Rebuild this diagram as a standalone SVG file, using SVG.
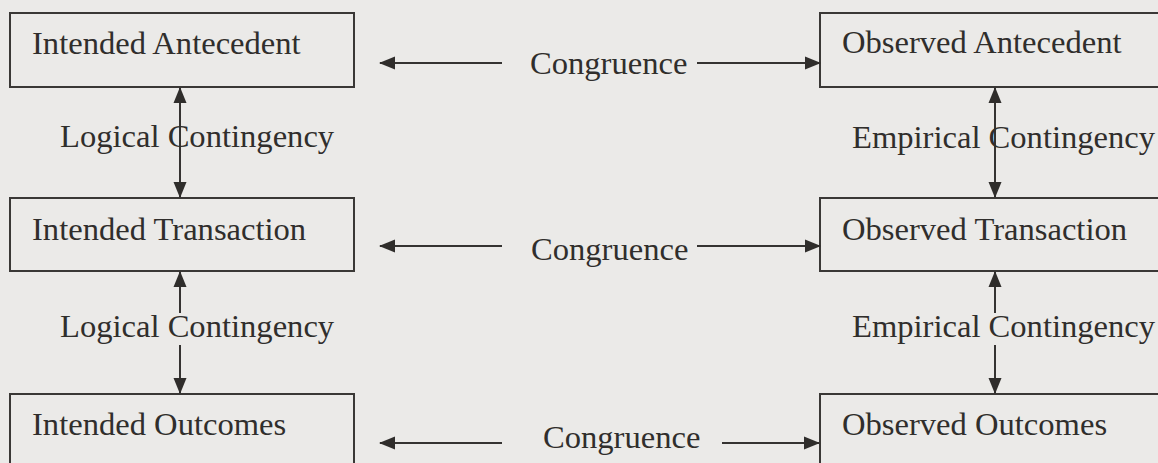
<svg xmlns="http://www.w3.org/2000/svg" width="1158" height="463" viewBox="0 0 1158 463">
  <style>
    .box { fill: none; stroke: #3a3836; stroke-width: 2; }
    .lbl { font-family: "Liberation Serif", "Times New Roman", serif; font-size: 32.6px; fill: #302e2c; }
    .conn { stroke: #353331; stroke-width: 2; fill: none; }
  </style>
  <defs>
    <marker id="ah" markerUnits="userSpaceOnUse" markerWidth="17" markerHeight="14" refX="15" refY="7" orient="auto-start-reverse">
      <path d="M0,0.5 L16,7 L0,13.5 Z" fill="#2f2d2b"/>
    </marker>
  </defs>
  <rect width="1158" height="463" fill="#ebeae8"/>

  <g id="intended-antecedent">
    <rect class="box" x="10" y="13" width="344" height="74"/>
    <text class="lbl" x="32" y="54">Intended Antecedent</text>
  </g>
  <g id="intended-transaction">
    <rect class="box" x="10" y="198" width="344" height="73"/>
    <text class="lbl" x="32" y="240">Intended Transaction</text>
  </g>
  <g id="intended-outcomes">
    <rect class="box" x="10" y="394" width="344" height="100"/>
    <text class="lbl" x="32" y="435">Intended Outcomes</text>
  </g>
  <g id="observed-antecedent">
    <rect class="box" x="820" y="13" width="360" height="74"/>
    <text class="lbl" x="842" y="53">Observed Antecedent</text>
  </g>
  <g id="observed-transaction">
    <rect class="box" x="820" y="198" width="360" height="73"/>
    <text class="lbl" x="842" y="240">Observed Transaction</text>
  </g>
  <g id="observed-outcomes">
    <rect class="box" x="820" y="394" width="360" height="100"/>
    <text class="lbl" x="842" y="435">Observed Outcomes</text>
  </g>

  <g id="connectors">
    <!-- Congruence row 1 -->
    <line class="conn" x1="502" y1="63" x2="380" y2="63" marker-end="url(#ah)"/>
    <line class="conn" x1="697" y1="63" x2="820" y2="63" marker-end="url(#ah)"/>
    <!-- Congruence row 2 -->
    <line class="conn" x1="502" y1="246" x2="380" y2="246" marker-end="url(#ah)"/>
    <line class="conn" x1="697" y1="246" x2="820" y2="246" marker-end="url(#ah)"/>
    <!-- Congruence row 3 -->
    <line class="conn" x1="502" y1="443" x2="380" y2="443" marker-end="url(#ah)"/>
    <line class="conn" x1="722" y1="443" x2="819" y2="443" marker-end="url(#ah)"/>
    <!-- Logical contingency -->
    <line class="conn" x1="180" y1="88" x2="180" y2="197" marker-start="url(#ah)" marker-end="url(#ah)"/>
    <line class="conn" x1="180" y1="313" x2="180" y2="272" marker-end="url(#ah)"/>
    <line class="conn" x1="180" y1="345" x2="180" y2="393" marker-end="url(#ah)"/>
    <!-- Empirical contingency -->
    <line class="conn" x1="995" y1="88" x2="995" y2="197" marker-start="url(#ah)" marker-end="url(#ah)"/>
    <line class="conn" x1="995" y1="313" x2="995" y2="272" marker-end="url(#ah)"/>
    <line class="conn" x1="995" y1="345" x2="995" y2="393" marker-end="url(#ah)"/>
    <text class="lbl" x="530" y="74">Congruence</text>
    <text class="lbl" x="531" y="260">Congruence</text>
    <text class="lbl" x="543" y="448">Congruence</text>
    <text class="lbl" x="60" y="147">Logical Contingency</text>
    <text class="lbl" x="60" y="337">Logical Contingency</text>
    <text class="lbl" x="852" y="148">Empirical Contingency</text>
    <text class="lbl" x="852" y="337">Empirical Contingency</text>
  </g>
</svg>
